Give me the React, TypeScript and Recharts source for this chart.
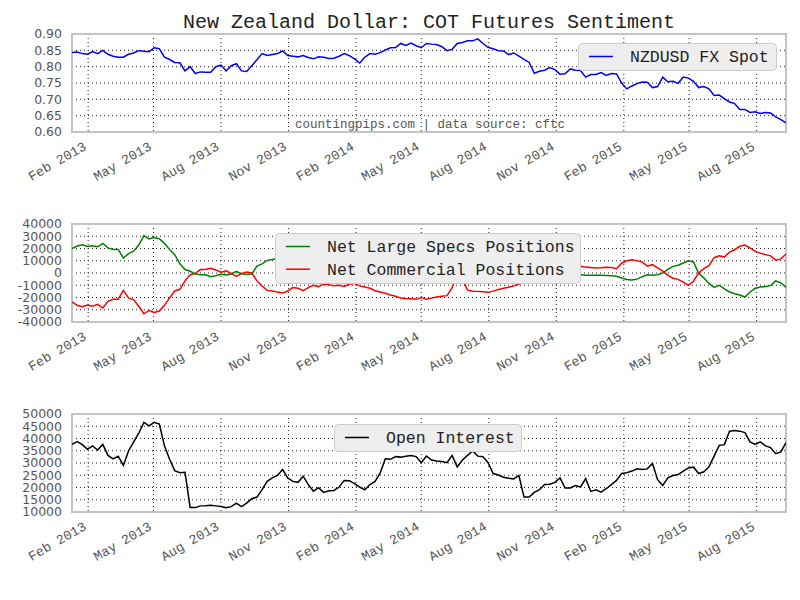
import React from 'react';
import { LineChart, Line, XAxis, YAxis, CartesianGrid, Legend, ReferenceArea } from 'recharts';

// Weekly observations, starting 2013-01-10
const startDate = '2013-01-10';

const spot = [
  0.843, 0.845, 0.840, 0.838, 0.846, 0.840, 0.850, 0.838, 0.832, 0.829,
  0.829, 0.838, 0.842, 0.849, 0.847, 0.846, 0.858, 0.855, 0.829, 0.822,
  0.813, 0.812, 0.787, 0.800, 0.779, 0.784, 0.783, 0.783, 0.800, 0.805,
  0.787, 0.803, 0.809, 0.787, 0.785, 0.803, 0.821, 0.840, 0.834, 0.837,
  0.840, 0.848, 0.834, 0.832, 0.830, 0.834, 0.828, 0.824, 0.830, 0.829,
  0.825, 0.826, 0.832, 0.840, 0.834, 0.824, 0.811, 0.829, 0.840, 0.838,
  0.843, 0.851, 0.858, 0.859, 0.871, 0.865, 0.872, 0.864, 0.858, 0.871,
  0.869, 0.868, 0.861, 0.849, 0.853, 0.871, 0.874, 0.879, 0.879, 0.885,
  0.871, 0.859, 0.855, 0.849, 0.848, 0.837, 0.842, 0.832, 0.822, 0.813,
  0.780, 0.786, 0.789, 0.797, 0.791, 0.777, 0.778, 0.793, 0.789, 0.788,
  0.768, 0.776, 0.776, 0.782, 0.773, 0.779, 0.778, 0.750, 0.732, 0.741,
  0.748, 0.753, 0.752, 0.736, 0.739, 0.768, 0.754, 0.755, 0.749, 0.768,
  0.765, 0.755, 0.736, 0.739, 0.732, 0.712, 0.713, 0.702, 0.692, 0.687,
  0.669, 0.669, 0.660, 0.662, 0.657, 0.660, 0.658, 0.646, 0.638, 0.628,
];

const largeSpecs = [
  20000, 22000, 23000, 21700, 22200, 21400, 24200, 20500, 19200, 19200,
  12200, 15800, 17800, 22800, 30500, 27800, 28900, 28000, 24200, 19200,
  15000, 7500, 2800, 1400, -800, -1400, -1400, -3100, -2200, -1100,
  -1700, -800, 1400, -800, -1100, -800, 5600, 7500, 10300, 11100,
  12000, 13500, 12500, 10500, 11000, 12500, 10000, 9000, 9500, 8000,
  8500, 9000, 8500, 9500, 8000, 7500, 9000, 10000, 11000, 12500,
  13500, 14500, 15500, 16500, 17500, 18000, 18500, 18500, 17000, 18500,
  18000, 17000, 16500, 16000, 10000, 500, 4000, 12000, 12500, 13000,
  13000, 13500, 12500, 11500, 10500, 10000, 9000, 7500, 6000, 5000,
  3000, 2500, 500, -500, -1000, -800, -1500, -1200, -1500, -1400,
  -1900, -1900, -1800, -1900, -2000, -2200, -2700, -4100, -5300, -5700,
  -5000, -3000, -1500, -1900, -1400, 0, 3000, 5400, 6300, 8200,
  10000, 9000, -500, -4000, -8500, -11700, -10000, -13000, -15500, -17000,
  -18000, -19600, -15500, -12500, -11500, -11000, -10300, -6500, -8000, -11700,
];

const commercial = [
  -23600, -26400, -27500, -26100, -27200, -25600, -28600, -23100, -21400, -21400,
  -14200, -20300, -21900, -27200, -33300, -30600, -32200, -31100, -26400, -20300,
  -14700, -13300, -6400, -1400, -300, 2800, 2800, 3900, 2500, 600,
  1700, -300, -2800, -300, 800, 0, -6400, -10600, -14200, -14700,
  -15600, -16400, -14700, -11900, -12500, -14400, -11900, -10000, -11100, -8900,
  -9500, -10500, -10000, -11000, -9000, -8500, -10500, -11500, -12500, -14500,
  -15500, -16500, -18000, -19000, -20500, -21000, -21000, -21500, -20000, -21500,
  -20500, -19600, -19000, -18500, -12000, -1000, -5000, -14000, -14800, -15000,
  -15300, -15800, -14800, -13500, -12500, -11700, -10500, -9000, -7000, -6500,
  -4000, -3500, -1000, 500, 1500, 1000, 3000, 4000, 4500, 5400,
  4800, 4400, 4100, 4300, 4700, 4500, 3500, 8000, 10000, 10900,
  10100, 9000, 5600, 6800, 4200, 1500, -2000, -4300, -5200, -7500,
  -10000, -6500, 0, 3500, 6000, 12500, 14000, 13000, 17000, 19000,
  21800, 22800, 20500, 17600, 16200, 15000, 14000, 10500, 11500, 15500,
];

const openInterest = [
  37600, 38700, 37500, 35600, 37000, 35300, 37600, 33100, 31700, 32800,
  29000, 34900, 38600, 42200, 46600, 45200, 46600, 45900, 37000, 31500,
  26900, 26000, 26200, 11800, 11800, 12500, 12600, 12800, 12500, 12200,
  11700, 12200, 13600, 12200, 13600, 15400, 16100, 19100, 22500, 23900,
  24900, 27300, 23900, 22500, 22100, 24600, 21200, 18500, 19900, 18000,
  18700, 18800, 20200, 22900, 22800, 21600, 20200, 19100, 21200, 22500,
  26000, 31700, 31500, 32600, 32400, 32800, 33100, 32600, 30100, 32800,
  31200, 30800, 30600, 30100, 33100, 28400, 31200, 33100, 34900, 32800,
  32600, 30100, 25700, 25100, 24200, 23800, 23500, 24900, 16100, 16100,
  18000, 19100, 21200, 21300, 22100, 23900, 19800, 19800, 20800, 20200,
  23600, 18400, 19100, 18100, 19500, 21200, 22900, 25700, 26000, 26700,
  27600, 27300, 27600, 29800, 23200, 20800, 23900, 24900, 25300, 26700,
  28000, 28300, 25700, 26400, 28400, 32800, 37200, 37500, 43000, 43300,
  43000, 42400, 38600, 37600, 38600, 37000, 36300, 33800, 34500, 38300,
];

const tickDates = [
  '2013-02-01', '2013-05-01', '2013-08-01', '2013-11-01',
  '2014-02-01', '2014-05-01', '2014-08-01', '2014-11-01',
  '2015-02-01', '2015-05-01', '2015-08-01',
];
const tickLabels = [
  'Feb 2013', 'May 2013', 'Aug 2013', 'Nov 2013',
  'Feb 2014', 'May 2014', 'Aug 2014', 'Nov 2014',
  'Feb 2015', 'May 2015', 'Aug 2015',
];

const spotTicks = [0.6, 0.65, 0.7, 0.75, 0.8, 0.85, 0.9];
const positionTicks = [-40000, -30000, -20000, -10000, 0, 10000, 20000, 30000, 40000];
const oiTicks = [10000, 15000, 20000, 25000, 30000, 35000, 40000, 45000, 50000];

const titleText = 'New Zealand Dollar: COT Futures Sentiment';
const watermark = 'countingpips.com | data source: cftc';

const DAY = 86400000;
const t0 = Date.parse(startDate + 'T00:00:00Z');
const rows = spot.map((v, i) => ({
  t: t0 + i * 7 * DAY,
  spot: v,
  specs: largeSpecs[i],
  comm: commercial[i],
  oi: openInterest[i],
}));
const xTicks = tickDates.map((d) => Date.parse(d + 'T00:00:00Z'));
const xDomain: [number, number] = [rows[0].t, rows[rows.length - 1].t];

const MONO = '"Liberation Mono", "DejaVu Sans Mono", monospace';
const SANS = '"DejaVu Sans", sans-serif';

const XTick = (props: any) => {
  const { x, y, payload } = props;
  const idx = xTicks.indexOf(payload.value);
  const label = idx >= 0 ? tickLabels[idx] : '';
  const ax = x - 1;
  const ay = y + 17;
  return (
    <text x={ax} y={ay} transform={`rotate(-30 ${ax} ${ay})`} textAnchor="end"
      fontFamily={MONO} fontSize={13.4} fill="#555">
      {label}
    </text>
  );
};

type Series = { key: string; name: string; color: string };

const makeLegend = (w: number, h: number, series: Series[]) => (props: any) => {
  const raw = (props.payload || []) as any[];
  const items = series.map((s) => {
    const found = raw.find((p) => p.dataKey === s.key || p.value === s.name);
    return { value: found ? found.value : s.name, color: found ? found.color : s.color };
  });
  return (
    <svg width={w} height={h} style={{ display: 'block' }}>
      <rect x={0.5} y={0.5} width={w - 1} height={h - 1} rx={4} ry={4} fill="#eeeeee" stroke="#cccccc" strokeWidth={1} />
      {items.map((it, i) => {
        const cy = 13.5 + i * 22.7;
        return (
          <g key={i}>
            <line x1={11} x2={35} y1={cy} y2={cy} stroke={it.color} strokeWidth={1.5} />
            <text x={52} y={cy + 5.5} fontFamily={MONO} fontSize={16.5} fill="#222">{it.value}</text>
          </g>
        );
      })}
    </svg>
  );
};

const W = 800;
const H = 190;
const margin = { top: 34, right: 14, bottom: 8, left: 12 };

function Panel(props: {
  top: number;
  series: Series[];
  yDomain: [number, number];
  yTicks: number[];
  fmt: (v: number) => string;
  legend: { left: number; top: number; width: number; height: number };
}) {
  const { top, series, yDomain, yTicks, fmt, legend } = props;
  return (
    <div style={{ position: 'absolute', left: 0, top, width: W, height: H }}>
      <LineChart width={W} height={H} data={rows} margin={margin}>
        <CartesianGrid stroke="#222" strokeDasharray="1 3" strokeWidth={1} />
        <ReferenceArea x1={xDomain[0]} x2={xDomain[1]} y1={yDomain[0]} y2={yDomain[1]}
          fill="none" stroke="#c4c4c4" strokeWidth={2} ifOverflow="visible" />
        <XAxis dataKey="t" type="number" scale="time" domain={xDomain} ticks={xTicks}
          interval={0} axisLine={false} tickLine={false} tickSize={0} tickMargin={0}
          height={50} tick={<XTick />} allowDataOverflow />
        <YAxis type="number" domain={yDomain} ticks={yTicks} interval={0} width={60}
          axisLine={false} tickLine={false} tickSize={0} tickMargin={10}
          tickFormatter={fmt} allowDataOverflow
          tick={{ fontFamily: SANS, fontSize: 12.5, fill: '#555' }} />
        {series.map((s) => (
          <Line key={s.key} type="linear" dataKey={s.key} name={s.name} stroke={s.color}
            strokeWidth={1.5} dot={false} activeDot={false} isAnimationActive={false} />
        ))}
        <Legend layout="horizontal" verticalAlign="middle" align="center"
          content={makeLegend(legend.width, legend.height, series)}
          wrapperStyle={{ left: legend.left, top: legend.top, width: legend.width, height: legend.height }} />
      </LineChart>
    </div>
  );
}

export default function App() {
  return (
    <div style={{ position: 'absolute', left: 0, top: 0, width: 800, height: 600, background: '#fff', overflow: 'hidden' }}>
      <div style={{ position: 'absolute', left: 183, top: 13, fontFamily: MONO, fontSize: 20, lineHeight: '20px', color: '#222', whiteSpace: 'nowrap' }}>
        {titleText}
      </div>
      <Panel top={0}
        series={[{ key: 'spot', name: 'NZDUSD FX Spot', color: '#0000ff' }]}
        yDomain={[0.6, 0.9]} yTicks={spotTicks} fmt={(v) => v.toFixed(2)}
        legend={{ left: 578, top: 43, width: 199, height: 28 }} />
      <div style={{ position: 'absolute', left: 295, top: 118.5, fontFamily: MONO, fontSize: 12.5, lineHeight: '12.5px', color: '#555', whiteSpace: 'nowrap' }}>
        {watermark}
      </div>
      <Panel top={190}
        series={[
          { key: 'specs', name: 'Net Large Specs Positions', color: '#008000' },
          { key: 'comm', name: 'Net Commercial Positions', color: '#ff0000' },
        ]}
        yDomain={[-40000, 40000]} yTicks={positionTicks} fmt={(v) => String(v)}
        legend={{ left: 275, top: 43, width: 306, height: 51 }} />
      <Panel top={380}
        series={[{ key: 'oi', name: 'Open Interest', color: '#000000' }]}
        yDomain={[10000, 50000]} yTicks={oiTicks} fmt={(v) => String(v)}
        legend={{ left: 334, top: 44, width: 188, height: 28 }} />
    </div>
  );
}
